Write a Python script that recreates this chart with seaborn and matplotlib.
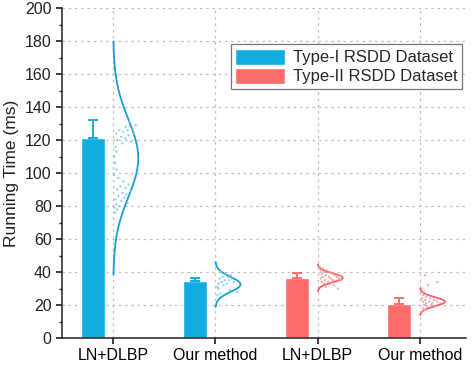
import numpy as np
import pandas as pd
import matplotlib.pyplot as plt
import seaborn as sns
from matplotlib.ticker import MultipleLocator
from matplotlib.patches import Patch

# DATA
methods = ['LN+DLBP', 'Our method', 'LN+DLBP', 'Our method']
datasets = ['Type-I RSDD Dataset', 'Type-I RSDD Dataset', 'Type-II RSDD Dataset', 'Type-II RSDD Dataset']
mean_time = [121, 34.5, 36.3, 20.5]
err_time = [11, 1.8, 3.3, 3.8]

# normal curve fitted to each sample (mean, sd)
curve_mean = [109, 32.5, 36.5, 22]
curve_sd = [23.5, 4.5, 2.7, 2.7]

# individual runs (value, horizontal spread inside the distribution)
runs1 = [131, 129, 128, 127, 126, 126, 125, 124, 124, 123, 122, 121, 120, 119, 118, 116,
         113, 110, 106, 102, 99, 97, 95, 93, 92, 91, 90, 89, 88, 87, 86, 85, 84, 83, 82,
         81, 80, 79, 78, 76]
spread1 = [0.16, 0.22, 0.12, 0.19, 0.06, 0.14, 0.10, 0.20, 0.03, 0.15, 0.08, 0.12, 0.04,
           0.17, 0.09, 0.02, 0.03, 0.01, 0.02, 0.03, 0.01, 0.05, 0.10, 0.15, 0.07, 0.12,
           0.04, 0.17, 0.09, 0.13, 0.05, 0.11, 0.02, 0.08, 0.14, 0.03, 0.06, 0.01, 0.04, 0.02]
runs2 = [40, 39, 38, 37, 37, 36, 36, 35, 35, 34, 34, 33, 33, 32, 31, 30, 29, 28, 27, 26]
spread2 = [0.05, 0.10, 0.15, 0.07, 0.12, 0.04, 0.16, 0.09, 0.13, 0.06, 0.18, 0.03, 0.11,
           0.08, 0.02, 0.03, 0.14, 0.21, 0.05, 0.02]
runs3 = [43, 42, 41, 41, 40, 40, 39, 39, 38, 38, 38, 37, 37, 37, 36, 36, 36, 35, 35, 35,
         34, 34, 33, 33, 32, 31, 30]
spread3 = [0.02, 0.05, 0.03, 0.09, 0.06, 0.12, 0.04, 0.14, 0.08, 0.17, 0.22, 0.05, 0.11,
           0.19, 0.03, 0.13, 0.21, 0.07, 0.15, 0.23, 0.04, 0.10, 0.06, 0.13, 0.16, 0.08, 0.20]
runs4 = [38, 34, 32, 30, 28, 26, 25, 24, 24, 23, 23, 22, 22, 22, 21, 21, 21, 20, 20, 19,
         19, 18, 17, 16]
spread4 = [0.05, 0.17, 0.08, 0.02, 0.04, 0.03, 0.06, 0.02, 0.10, 0.05, 0.14, 0.03, 0.09,
           0.17, 0.06, 0.12, 0.20, 0.04, 0.11, 0.07, 0.15, 0.03, 0.05, 0.02]
runs = [runs1, runs2, runs3, runs4]
spreads = [spread1, spread2, spread3, spread4]

bar_colors = {'Type-I RSDD Dataset': '#13ACE1', 'Type-II RSDD Dataset': '#FB6D6D'}
curve_colors = {'Type-I RSDD Dataset': '#1A9ECE', 'Type-II RSDD Dataset': '#F0626A'}
dot_colors = {'Type-I RSDD Dataset': '#7CCDEC', 'Type-II RSDD Dataset': '#F9A0A0'}

sns.set_theme(style="ticks")
plt.rcParams['font.family'] = ['Liberation Sans', 'DejaVu Sans']

fig = plt.figure(figsize=(4.74, 3.68), dpi=100)
ax = fig.add_axes([0.131, 0.0815, 0.852, 0.8965])

pos = np.arange(1, len(methods) + 1)
bar_w = 0.235
half_w = 0.245

# grid first so it stays behind
ax.set_axisbelow(True)
ax.grid(True, which='major', linestyle=(0, (2, 3)), color='#c4bcbe', linewidth=0.9)

for i, p in enumerate(pos):
    d = datasets[i]
    ax.bar(p - 0.2, mean_time[i], width=bar_w, color=bar_colors[d], zorder=2)
    ax.errorbar(p - 0.2, mean_time[i], yerr=[[0], [err_time[i]]], fmt='none',
                ecolor=bar_colors[d], elinewidth=1.4, capsize=3.5, capthick=1.4, zorder=3)

    yy = np.linspace(curve_mean[i] - 3 * curve_sd[i], curve_mean[i] + 3 * curve_sd[i], 200)
    pdf = np.exp(-0.5 * ((yy - curve_mean[i]) / curve_sd[i]) ** 2)
    curve = pd.DataFrame({'x': p + half_w * pdf, 'y': yy})
    sns.lineplot(data=curve, x='x', y='y', sort=False, estimator=None, ax=ax,
                 color=curve_colors[d], linewidth=1.3, zorder=4)

    pts = pd.DataFrame({'x': p + np.array(spreads[i]), 'y': runs[i]})
    sns.scatterplot(data=pts, x='x', y='y', ax=ax, s=3, color=dot_colors[d],
                    edgecolor='none', alpha=0.85, zorder=5)

ax.set_xlim(0.5, 4.45)
ax.set_ylim(0, 200)
ax.set_xticks(pos)
ax.set_xticklabels(methods, fontsize=11.5, color='black')
ax.yaxis.set_major_locator(MultipleLocator(20))
ax.yaxis.set_minor_locator(MultipleLocator(10))
ax.tick_params(axis='y', which='major', direction='out', length=4, labelsize=11.5, labelcolor='#222222')
ax.tick_params(axis='y', which='minor', direction='out', length=2.5)
ax.tick_params(axis='x', direction='out', length=4)
ax.set_xlabel('')
ax.set_ylabel('Running Time (ms)', fontsize=12.5, color='#222222', labelpad=4)

sns.despine(ax=ax)
for s in ['left', 'bottom']:
    ax.spines[s].set_linewidth(1.1)
    ax.spines[s].set_color('#222222')

handles = [Patch(facecolor=bar_colors[k], label=k) for k in bar_colors]
leg = ax.legend(handles=handles, loc='upper right', bbox_to_anchor=(0.99, 0.89),
                fontsize=12, frameon=True, fancybox=False, handlelength=3.0,
                handleheight=1.1, borderpad=0.25, labelspacing=0.15, handletextpad=0.5,
                borderaxespad=0.0)
leg.get_frame().set_edgecolor('#555555')
leg.get_frame().set_linewidth(0.9)

plt.savefig('out.png', dpi=100)
plt.close()
